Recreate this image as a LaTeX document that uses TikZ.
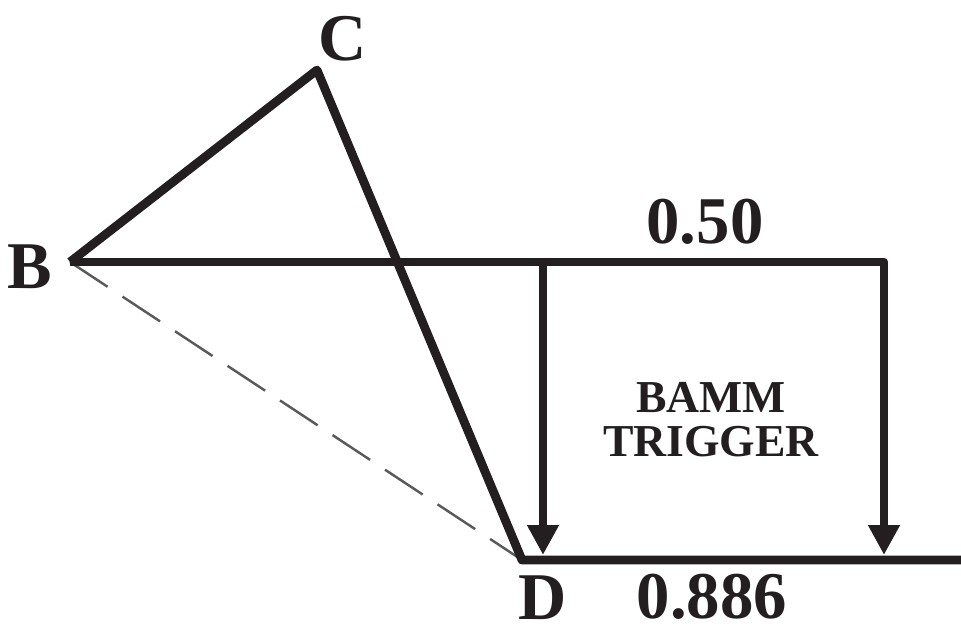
\documentclass[tikz,border=0pt]{standalone}
\usepackage{fontspec}
\setmainfont{Liberation Serif}
\usetikzlibrary{arrows.meta, positioning}
\definecolor{ink}{RGB}{35,31,32}
\definecolor{guide}{RGB}{90,90,90}

\begin{document}
\begin{tikzpicture}[
    x=0.02cm, y=-0.02cm,
    leg/.style={draw=ink, line width=5pt, line join=round},
    arr/.style={leg, -{Triangle[length=0.6cm, width=0.6cm]}},
    guideline/.style={draw=guide, line width=1.4pt, dash pattern=on 25.6pt off 10.2pt},
    pt/.style={inner sep=0pt, text=ink, font=\fontsize{38}{40}\selectfont\bfseries},
    note/.style={inner sep=0pt, text=ink, align=center, font=\fontsize{26}{25}\selectfont\bfseries}
]
\useasboundingbox (0,0) rectangle (961,631);

% Points of the pattern
\coordinate (B) at (70,262);
\coordinate (C) at (317,70);
\coordinate (D) at (522,560);
\coordinate (top) at (543,262);
\coordinate (corner) at (884,262);
\coordinate (bot1) at (543,555);
\coordinate (bot2) at (884,555);
\coordinate (tail) at (961,560);

% Dashed B-D leg
\draw[guideline] (B) -- (D);

% Legs
\draw[leg] (B) -- (C) -- (D) -- (tail);
\draw[arr] (B) -- (corner) -- (bot2);
\draw[arr] (top) -- (bot1);

% Labels
\node[pt, left=0.36cm of B, yshift=-0.1cm] (lb) {B};
\node[pt, above right=0.16cm and 0.02cm of C] (lc) {C};
\node[pt, below=0.4cm of bot1] (ld) {D};
\node[pt] (l1) at (705,222) {0.50};
\node[pt, right=1.38cm of ld] (l2) {0.886};
\node[note] (trig) at (711,420) {BAMM\\TRIGGER};

\end{tikzpicture}
\end{document}
